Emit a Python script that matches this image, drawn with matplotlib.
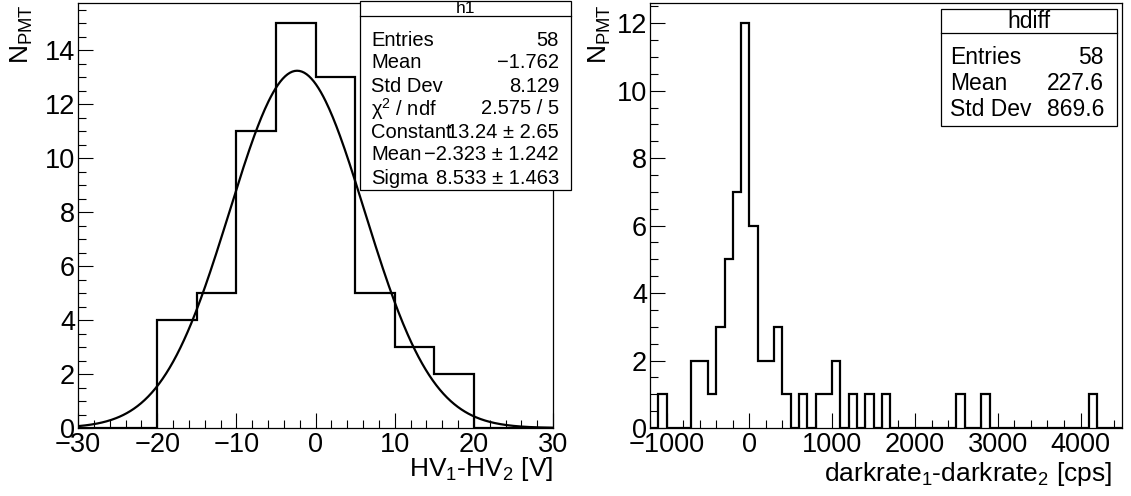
import numpy as np
import matplotlib
matplotlib.use("Agg")
import matplotlib.pyplot as plt
from matplotlib.patches import Rectangle
from matplotlib.ticker import MultipleLocator

plt.rcParams['font.family'] = ['Liberation Sans', 'DejaVu Sans']
plt.rcParams['mathtext.fontset'] = 'custom'
plt.rcParams['mathtext.rm'] = 'Liberation Sans'
plt.rcParams['mathtext.it'] = 'Liberation Sans:italic'
plt.rcParams['mathtext.default'] = 'regular'

# left: HV difference histogram, bins of 5 V from -30 to 30
hv_lo, hv_hi, hv_w = -30, 30, 5
hv_counts = [0, 0, 4, 5, 11, 15, 13, 5, 3, 2, 0, 0]
fit_const, fit_mean, fit_sigma = 13.24, -2.323, 8.533

# right: dark rate difference histogram, bins of 100 cps from -1200 to 4500
dr_lo, dr_hi, dr_w = -1200, 4500, 100
dr_counts = [0, 1, 0, 0, 0, 2, 2, 1, 3, 5, 7, 12, 6, 2, 2, 3, 1, 0, 1, 0,
             1, 1, 2, 0, 1, 0, 1, 0, 1, 0, 0, 0, 0, 0, 0, 0, 0, 1, 0, 0,
             1, 0, 0, 0, 0, 0, 0, 0, 0, 0, 0, 0, 0, 1, 0, 0, 0]

PM = " \u00b1 "
h1_rows = [("Entries", "58"), ("Mean", "\u22121.762"), ("Std Dev", "8.129"),
           (r"$\chi^{2}$ / ndf", "2.575 / 5"), ("Constant", "13.24" + PM + "2.65"),
           ("Mean", "\u22122.323" + PM + "1.242"), ("Sigma", "8.533" + PM + "1.463")]
hdiff_rows = [("Entries", "58"), ("Mean", "227.6"), ("Std Dev", "869.6")]

W, H = 1131, 496
fig = plt.figure(figsize=(W / 100, H / 100), dpi=100)


def pax(x0, y0, x1, y1):
    return fig.add_axes([x0 / W, 1 - y1 / H, (x1 - x0) / W, (y1 - y0) / H])


def style(ax, major_x, minor_x, major_y, minor_y):
    ax.xaxis.set_major_locator(MultipleLocator(major_x))
    ax.xaxis.set_minor_locator(MultipleLocator(minor_x))
    ax.yaxis.set_major_locator(MultipleLocator(major_y))
    ax.yaxis.set_minor_locator(MultipleLocator(minor_y))
    ax.tick_params(which='both', direction='in', top=False, right=False,
                   width=0.8, labelsize=19.5)
    ax.tick_params(which='major', length=11)
    ax.tick_params(which='minor', length=5.5)
    ax.tick_params(axis='x', pad=3)
    ax.tick_params(axis='y', pad=2)
    for s in ax.spines.values():
        s.set_linewidth(0.9)


def stats_box(x0, y0, x1, y1, ydiv, title, rows, ys, xl, xr, fs, fs_title):
    fig.add_artist(Rectangle((x0 / W, 1 - y1 / H), (x1 - x0) / W, (y1 - y0) / H,
                             transform=fig.transFigure, facecolor='white',
                             edgecolor='black', lw=0.9, zorder=5))
    fig.add_artist(plt.Line2D([x0 / W, x1 / W], [1 - ydiv / H, 1 - ydiv / H],
                              transform=fig.transFigure, color='black', lw=0.9, zorder=6))
    fig.text((x0 + x1) / 2 / W, 1 - (y0 + ydiv) / 2 / H, title, ha='center',
             va='center', fontsize=fs_title, zorder=7)
    for (k, v), y in zip(rows, ys):
        fig.text(xl / W, 1 - y / H, k, ha='left', va='center', fontsize=fs, zorder=7)
        fig.text(xr / W, 1 - y / H, v, ha='right', va='center', fontsize=fs, zorder=7)


def ylab(x, text):
    fig.text(x / W, 1 - 4 / H, text, rotation=90, ha='center', va='top', fontsize=19)


# left pad
ax1 = pax(78, 3, 553, 428)
edges1 = np.arange(hv_lo, hv_hi + hv_w, hv_w)
ax1.stairs(hv_counts, edges1, color='black', lw=1.6, baseline=0)
xf = np.linspace(hv_lo, hv_hi, 400)
ax1.plot(xf, fit_const * np.exp(-0.5 * ((xf - fit_mean) / fit_sigma) ** 2),
         color='black', lw=1.6)
ax1.set_xlim(hv_lo, hv_hi)
ax1.set_ylim(0, max(hv_counts) * 1.05)
style(ax1, 10, 2, 2, 0.5)
ax1.set_xlabel("HV$_{1}$-HV$_{2}$ [V]", fontsize=19, loc='right')
ax1.xaxis.set_label_coords(1.0, (428 - 476) / 425)
ax1.xaxis.label.set_va('baseline')
ylab(22, "N$_{PMT}$")

# right pad
ax2 = pax(650, 3, 1122, 428)
edges2 = np.arange(dr_lo, dr_hi + dr_w, dr_w)
ax2.stairs(dr_counts, edges2, color='black', lw=1.6, baseline=0)
ax2.set_xlim(dr_lo, dr_hi)
ax2.set_ylim(0, max(dr_counts) * 1.05)
style(ax2, 1000, 200, 2, 0.5)
ax2.set_xlabel("darkrate$_{1}$-darkrate$_{2}$ [cps]", fontsize=19, loc='right')
ax2.xaxis.set_label_coords((1112 - 650) / 472, (428 - 481) / 425)
ax2.xaxis.label.set_va('baseline')
ylab(600, "N$_{PMT}$")

stats_box(360, 1, 571, 190, 16, "h1", h1_rows,
          [40, 63, 86, 109, 132, 155, 178], 371, 559, 14.5, 12.5)
stats_box(941, 9, 1117, 126, 33, "hdiff", hdiff_rows,
          [57, 83, 110], 950, 1104, 16.5, 16.5)

fig.savefig("out.png", dpi=100)
